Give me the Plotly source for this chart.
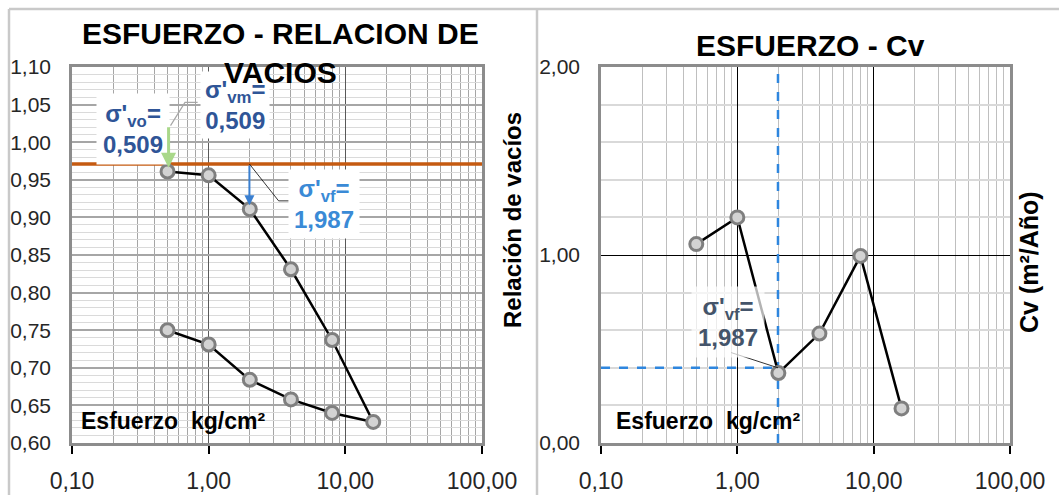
import math
import plotly.graph_objects as go

# ---------------- data ----------------
stress_load = [0.5, 1, 2, 4, 8, 16]
void_load = [0.961, 0.956, 0.911, 0.831, 0.737, 0.628]
stress_unload = [8, 4, 2, 1, 0.5]
void_unload = [0.640, 0.658, 0.684, 0.731, 0.750]
cv_values = [1.058, 1.200, 0.372, 0.582, 0.995, 0.184]

sigma_vo = 0.509
sigma_vm = 0.509
sigma_vf = 1.987
e_initial = 0.971
cv_at_vf = 0.40

x_tickvals = [0.1, 1, 10, 100]
x_ticktext = ["0,10", "1,00", "10,00", "100,00"]

# ---------------- style ----------------
W, H = 1059, 495
FONT = "Liberation Sans, Arial, sans-serif"
LBL_DARK = "#2F5597"
LBL_BLUE = "#3A8AD6"
LBL_SLATE = "#44546A"
ORANGE = "#C55A11"
FRAME = "#8C8C8C"

def px_x(p):
    return p / W

def px_y(p):
    return (H - p) / H

minor_vals = [m * 10 ** d for d in (-1, 0, 1) for m in range(2, 10)]

fig = go.Figure()

marker_style = dict(size=13, color="#D3D3D3", line=dict(color="#7F7F7F", width=3))

# orange reference line
fig.add_trace(go.Scatter(x=[x_tickvals[0], x_tickvals[-1]], y=[e_initial, e_initial],
                         mode="lines", line=dict(color=ORANGE, width=3.5),
                         xaxis="x", yaxis="y", hoverinfo="skip", showlegend=False))
# compression curve
fig.add_trace(go.Scatter(x=stress_load + stress_unload, y=void_load + void_unload,
                         mode="lines+markers", line=dict(color="black", width=2.5),
                         marker=marker_style, xaxis="x", yaxis="y", showlegend=False))
# leader lines left chart
fig.add_trace(go.Scatter(x=[0.526, 0.671, 0.83], y=[1.022, 1.053, 1.053], mode="lines",
                         line=dict(color="#A6A6A6", width=1.2), xaxis="x", yaxis="y",
                         hoverinfo="skip", showlegend=False))
fig.add_trace(go.Scatter(x=[sigma_vf, 3.25, 3.86], y=[e_initial, 0.922, 0.922], mode="lines",
                         line=dict(color="black", width=0.8), xaxis="x", yaxis="y",
                         hoverinfo="skip", showlegend=False))

# right chart dashed lines
fig.add_trace(go.Scatter(x=[sigma_vf, sigma_vf], y=[0, 2], mode="lines",
                         line=dict(color="#2E86DE", width=2.5, dash="dash"),
                         xaxis="x2", yaxis="y2", hoverinfo="skip", showlegend=False))
fig.add_trace(go.Scatter(x=[x_tickvals[0], sigma_vf], y=[cv_at_vf, cv_at_vf], mode="lines",
                         line=dict(color="#2E86DE", width=2.5, dash="dash"),
                         xaxis="x2", yaxis="y2", hoverinfo="skip", showlegend=False))
# Cv curve
fig.add_trace(go.Scatter(x=stress_load, y=cv_values, mode="lines+markers",
                         line=dict(color="black", width=2.5), marker=marker_style,
                         xaxis="x2", yaxis="y2", showlegend=False))
# leader right chart
fig.add_trace(go.Scatter(x=[0.90, sigma_vf], y=[0.481, cv_at_vf], mode="lines",
                         line=dict(color="black", width=0.8), xaxis="x2", yaxis="y2",
                         hoverinfo="skip", showlegend=False))

tick_font_x = dict(family=FONT, size=23, color="#262626")
tick_font_y = dict(family=FONT, size=21, color="#262626")

common_x = dict(type="log", range=[-1, 2], tickmode="array", tickvals=x_tickvals,
                ticktext=x_ticktext, ticks="outside", ticklen=8, tickwidth=1.5,
                tickcolor="black", tickfont=tick_font_x, showline=True, linecolor=FRAME,
                linewidth=2.5, mirror=True, zeroline=False, ticklabelstandoff=8,
                automargin=False)

fig.update_layout(
    width=W, height=H, margin=dict(l=0, r=0, t=0, b=0, autoexpand=False),
    paper_bgcolor="white", plot_bgcolor="white", separators=",.",
    font=dict(family=FONT),
    xaxis=dict(domain=[px_x(72), px_x(482)], anchor="y", gridcolor="#595959", gridwidth=1.3,
               minor=dict(tickmode="array", tickvals=minor_vals, showgrid=True,
                          gridcolor="#A6A6A6", gridwidth=1, ticks=""),
               **common_x),
    yaxis=dict(domain=[px_y(443), px_y(67)], anchor="x", range=[0.6, 1.1], dtick=0.05,
               tick0=0.6, tickformat=".2f", tickfont=tick_font_y, ticks="",
               gridcolor="#A6A6A6", gridwidth=1.5, zeroline=False,
               minor=dict(dtick=0.01, showgrid=True, gridcolor="#DADADA", gridwidth=1),
               showline=True, linecolor=FRAME, linewidth=2.5, mirror=True,
               ticklabelstandoff=14, automargin=False),
    xaxis2=dict(domain=[px_x(601), px_x(1010)], anchor="y2", gridcolor="black", gridwidth=1,
                minor=dict(tickmode="array", tickvals=minor_vals, showgrid=True,
                           gridcolor="#BFBFBF", gridwidth=1, ticks=""),
                **common_x),
    yaxis2=dict(domain=[px_y(443), px_y(67)], anchor="x2", range=[0, 2], dtick=1,
                tickformat=".2f", tickfont=tick_font_y, ticks="", gridcolor="black",
                gridwidth=1, zeroline=False,
                minor=dict(dtick=0.2, showgrid=True, gridcolor="#D9D9D9", gridwidth=1.5),
                showline=True, linecolor=FRAME, linewidth=2.5, mirror=True,
                ticklabelstandoff=14, automargin=False),
)

# outer chart frames
frame = dict(color="#C9C9C9", width=2.5)
fig.add_shape(type="line", xref="paper", yref="paper", x0=px_x(9), x1=1, y0=px_y(9), y1=px_y(9), line=frame)
fig.add_shape(type="line", xref="paper", yref="paper", x0=px_x(9), x1=px_x(9), y0=0, y1=px_y(9), line=frame)
fig.add_shape(type="line", xref="paper", yref="paper", x0=px_x(537), x1=px_x(537), y0=0, y1=px_y(9), line=frame)

bold = lambda s: "<b>" + s + "</b>"
ann = []
# value labels
ann.append(dict(text=bold("σ'<sub>vo</sub>=<br>0,509"), xref="x", yref="y",
                x=-0.551, y=1.017, showarrow=False, bgcolor="white", borderpad=6,
                font=dict(size=24, color=LBL_DARK)))
ann.append(dict(text=bold("σ'<sub>vm</sub>=<br>0,509"), xref="x", yref="y",
                x=0.191, y=1.050, showarrow=False, bgcolor="white", borderpad=4,
                font=dict(size=24, color=LBL_DARK)))
ann.append(dict(text=bold("σ'<sub>vf</sub>=<br>1,987"), xref="x", yref="y",
                x=0.846, y=0.918, showarrow=False, bgcolor="white", borderpad=5,
                font=dict(size=24, color=LBL_BLUE)))
ann.append(dict(text=bold("σ'<sub>vf</sub>=<br>1,987"), xref="x2", yref="y2",
                x=-0.071, y=0.641, showarrow=False, bgcolor="rgba(255,255,255,0.7)",
                borderpad=6, font=dict(size=24, color=LBL_SLATE)))
# arrows
ann.append(dict(text="", xref="x", yref="y", x=math.log10(sigma_vo), y=0.966,
                axref="x", ayref="y", ax=math.log10(sigma_vo), ay=1.022, showarrow=True,
                arrowcolor="#A9D88A", arrowwidth=3, arrowhead=2, arrowsize=1))
ann.append(dict(text="", xref="x", yref="y", x=math.log10(sigma_vf), y=0.916,
                axref="x", ayref="y", ax=math.log10(sigma_vf), ay=e_initial, showarrow=True,
                arrowcolor="#3A7FD0", arrowwidth=2, arrowhead=2, arrowsize=1))
# titles
ann.append(dict(text=bold("ESFUERZO - RELACION DE<br>VACIOS"), xref="paper", yref="paper",
                x=px_x(280), y=px_y(53), showarrow=False, font=dict(size=30, color="black"),
                xanchor="center", yanchor="middle"))
ann.append(dict(text=bold("ESFUERZO - Cv"), xref="paper", yref="paper",
                x=px_x(810), y=px_y(45), showarrow=False, font=dict(size=30, color="black"),
                xanchor="center", yanchor="middle"))
# axis titles
ann.append(dict(text=bold("Relación de vacíos"), xref="paper", yref="paper",
                x=px_x(512), y=px_y(220), textangle=-90, showarrow=False,
                font=dict(size=24, color="black")))
ann.append(dict(text=bold("Cv (m²/Año)"), xref="paper", yref="paper",
                x=px_x(1045), y=px_y(262), textangle=-90, showarrow=False,
                font=dict(size=25, color="black")))
# x-axis labels inside plots
for xp in (79, 614):
    ann.append(dict(text=bold("Esfuerzo\u00a0 kg/cm²"), xref="paper", yref="paper",
                    x=px_x(xp), y=px_y(421), xanchor="left", yanchor="middle",
                    showarrow=False, font=dict(size=23, color="black")))

for a in ann:
    a.setdefault("font", {})
    a["font"]["family"] = FONT
fig.update_layout(annotations=ann)

fig.write_html("out.html")
